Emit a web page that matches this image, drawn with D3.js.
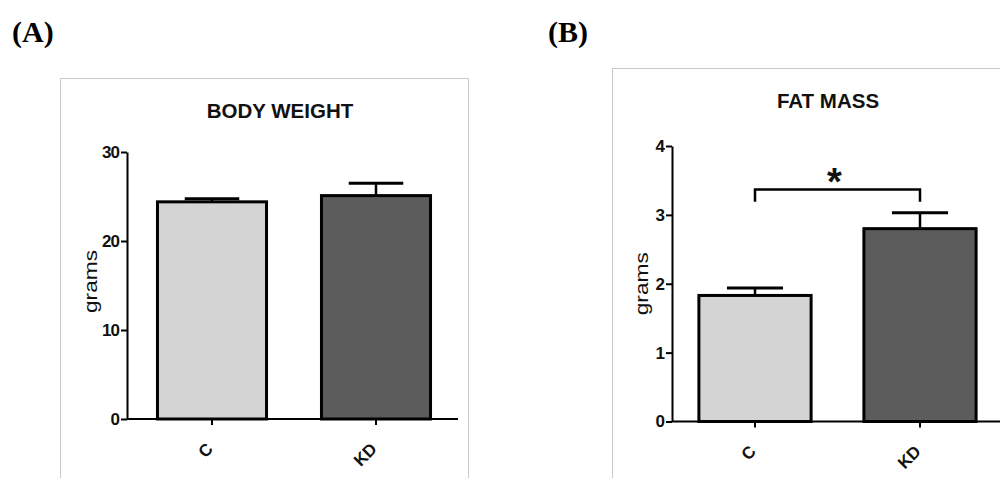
<!DOCTYPE html>
<html>
<head>
<meta charset="utf-8">
<script src="https://cdn.jsdelivr.net/npm/d3@7"></script>
<style>
  html, body { margin: 0; padding: 0; background: #fff; }
  svg { display: block; }
</style>
</head>
<body>
<svg id="chart" width="1000" height="478"></svg>
<script>
// ---- data ----
const groups      = ['C', 'KD'];
const bodyWeight  = [24.4, 25.1];
const bodyWeightE = [0.35, 1.4];
const fatMass     = [1.83, 2.80];
const fatMassE    = [0.11, 0.23];
const bwTicks     = [0, 10, 20, 30];
const fmTicks     = [0, 1, 2, 3, 4];
const fatSig      = { from: 'C', to: 'KD', y: 3.37, drop: 0.18, label: '*' };

const fills = { C: '#d4d4d4', KD: '#5c5c5c' };
const sans  = 'Liberation Sans, Arial, sans-serif';

const svg = d3.select('#chart');

function panel(opt) {
    const g = svg.append('g');

    // frame
    g.append('rect')
        .attr('x', opt.frame[0] + 0.5).attr('y', opt.frame[1] + 0.5)
        .attr('width', opt.frame[2]).attr('height', opt.frame[3])
        .attr('fill', '#fff').attr('stroke', '#c9c9c9').attr('stroke-width', 1);

    // panel letter
    svg.append('text')
        .attr('x', opt.letter[0]).attr('y', opt.letter[1])
        .attr('font-family', 'Liberation Serif, Times New Roman, serif')
        .attr('font-weight', 'bold').attr('font-size', 30)
        .text(opt.letterText);

    const x = d3.scaleBand().domain(groups).range(opt.xRange)
        .paddingInner(opt.pad).paddingOuter(opt.pad / 2);
    const y = d3.scaleLinear().domain(opt.yDomain).range(opt.yRange);

    // title
    g.append('text')
        .attr('x', opt.titleX).attr('y', opt.titleY)
        .attr('text-anchor', 'middle')
        .attr('font-family', sans).attr('font-weight', 'bold')
        .attr('font-size', 20.5).attr('fill', '#111')
        .text(opt.title);

    // bars
    const rows = groups.map((k, i) => ({ k, v: opt.values[i], e: opt.errors[i] }));
    g.selectAll('.bar').data(rows).join('rect')
        .attr('class', 'bar')
        .attr('x', d => x(d.k)).attr('y', d => y(d.v))
        .attr('width', x.bandwidth()).attr('height', d => y(0) - y(d.v))
        .attr('fill', d => fills[d.k])
        .attr('stroke', '#000').attr('stroke-width', 3);

    // error bars (up only)
    const cx = d => x(d.k) + x.bandwidth() / 2;
    const capW = x.bandwidth() * 0.5;
    g.selectAll('.stem').data(rows).join('line')
        .attr('x1', cx).attr('x2', cx)
        .attr('y1', d => y(d.v)).attr('y2', d => y(d.v + d.e))
        .attr('stroke', '#000').attr('stroke-width', 2.5);
    g.selectAll('.cap').data(rows).join('line')
        .attr('x1', d => cx(d) - capW / 2).attr('x2', d => cx(d) + capW / 2)
        .attr('y1', d => y(d.v + d.e)).attr('y2', d => y(d.v + d.e))
        .attr('stroke', '#000').attr('stroke-width', 3);

    // y axis
    const ya = g.append('g')
        .attr('transform', `translate(${opt.axisX},0)`)
        .call(d3.axisLeft(y).tickValues(opt.ticks).tickFormat(d3.format('d'))
            .tickSize(6).tickSizeOuter(0).tickPadding(2));
    ya.select('.domain').attr('stroke', '#000').attr('stroke-width', 2);
    ya.selectAll('.tick line').attr('stroke', '#000').attr('stroke-width', 2);
    ya.selectAll('.tick text')
        .attr('font-family', sans).attr('font-weight', 'bold')
        .attr('font-size', 17).attr('letter-spacing', -1).attr('fill', '#111');

    // x axis
    const xa = g.append('g')
        .attr('transform', `translate(0,${y(0)})`)
        .call(d3.axisBottom(x).tickSize(6).tickSizeOuter(0).tickFormat(''));
    xa.select('.domain').remove();
    xa.selectAll('.tick line').attr('stroke', '#000').attr('stroke-width', 2);
    g.append('line')
        .attr('x1', opt.axisX).attr('x2', opt.xEnd)
        .attr('y1', y(0)).attr('y2', y(0))
        .attr('stroke', '#000').attr('stroke-width', 2);

    g.selectAll('.xl').data(groups).join('text')
        .attr('class', 'xl')
        .attr('transform', k => `translate(${x(k) + x.bandwidth() / 2 + 2},${y(0) + 31}) rotate(-45)`)
        .attr('text-anchor', 'end')
        .attr('font-family', sans).attr('font-weight', 'bold')
        .attr('font-size', 17).attr('fill', '#111')
        .text(k => k);

    // y label
    g.append('text')
        .attr('transform', `translate(${opt.ylabX},${(y.range()[0] + y.range()[1]) / 2 + opt.ylabDy}) rotate(-90)`)
        .attr('text-anchor', 'middle')
        .attr('font-family', sans).attr('font-size', 19).attr('fill', '#111')
        .attr('textLength', 63).attr('lengthAdjust', 'spacingAndGlyphs')
        .text('grams');

    return { g, x, y };
}

panel({
    frame: [60, 78, 408, 420], letter: [12, 42], letterText: '(A)',
    title: 'BODY WEIGHT', titleX: 280, titleY: 118,
    xRange: [130, 458], pad: 0.335, xEnd: 458, axisX: 127,
    yDomain: [0, 30], yRange: [419, 152], ticks: bwTicks,
    values: bodyWeight, errors: bodyWeightE,
    ylabX: 97, ylabDy: -4
});

const pB = panel({
    frame: [612, 68, 420, 420], letter: [548, 42], letterText: '(B)',
    title: 'FAT MASS', titleX: 828, titleY: 108,
    xRange: [672.5, 1002.5], pad: 0.32, xEnd: 1000, axisX: 672,
    yDomain: [0, 4], yRange: [421.5, 146], ticks: fmTicks,
    values: fatMass, errors: fatMassE,
    ylabX: 648, ylabDy: 0
});

// significance bracket
{
    const { g, x, y } = pB;
    const x1 = x(fatSig.from) + x.bandwidth() / 2;
    const x2 = x(fatSig.to) + x.bandwidth() / 2;
    const yt = y(fatSig.y), yb = y(fatSig.y - fatSig.drop);
    g.append('path')
        .attr('d', `M${x1},${yb}V${yt}H${x2}V${yb}`)
        .attr('fill', 'none').attr('stroke', '#000').attr('stroke-width', 2.5);
    g.append('text')
        .attr('x', (x1 + x2) / 2 - 3).attr('y', yt + 6)
        .attr('text-anchor', 'middle')
        .attr('font-family', sans).attr('font-weight', 'bold')
        .attr('font-size', 38).attr('fill', '#111')
        .text(fatSig.label);
}
</script>
</body>
</html>
